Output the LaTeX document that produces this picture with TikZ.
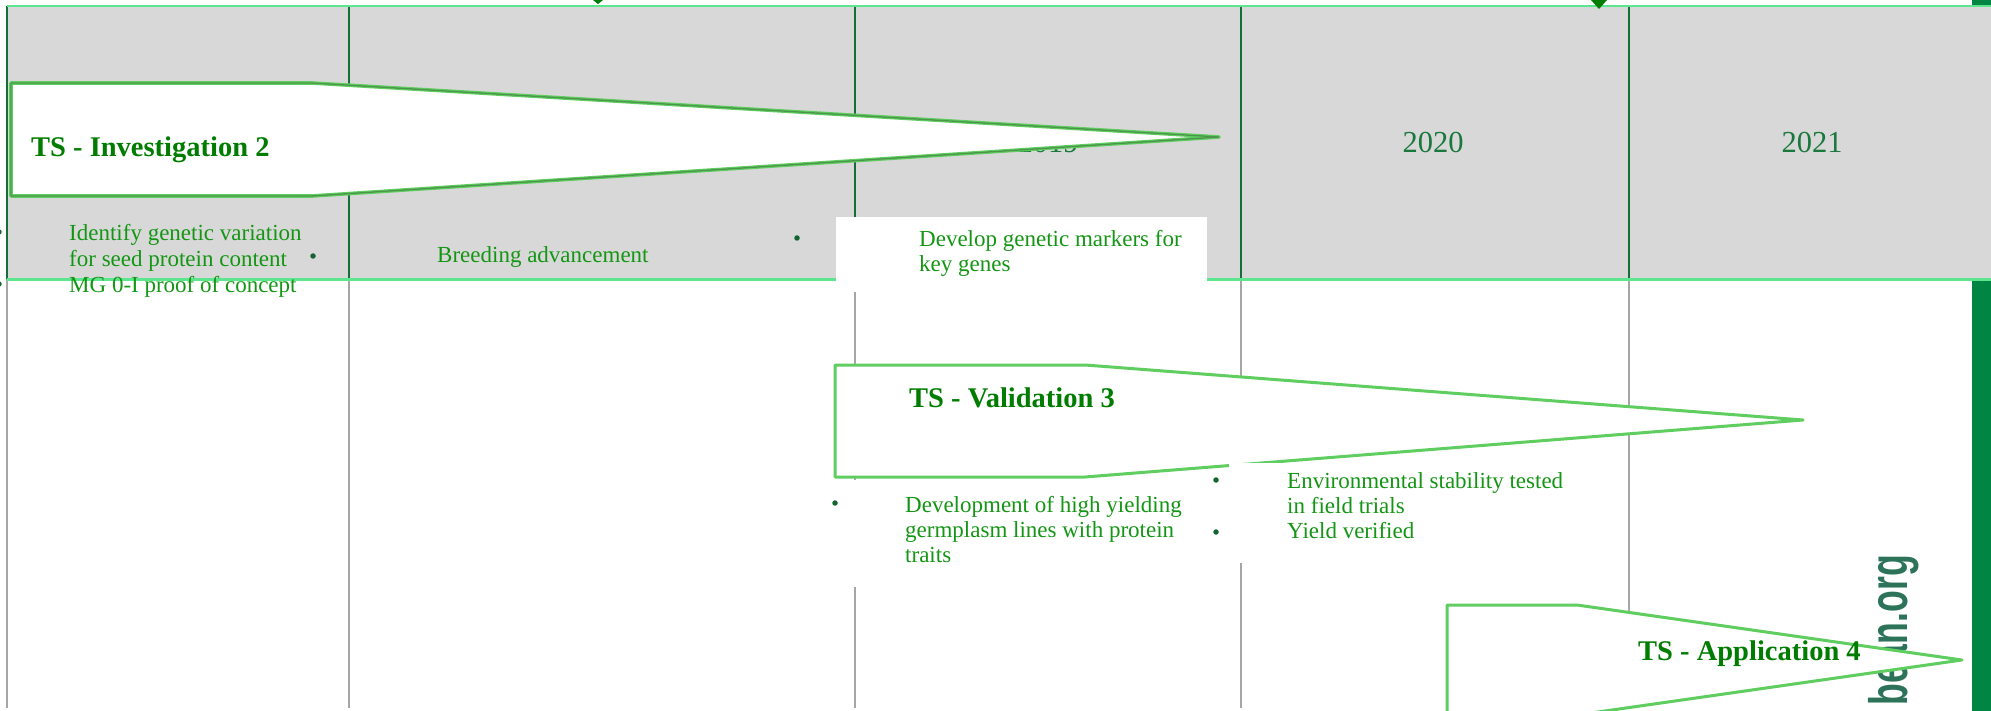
\documentclass[tikz,border=0pt]{standalone}
\usepackage{fontspec}
\setmainfont{Liberation Serif}
\newfontfamily\wmfont{Liberation Sans}

\definecolor{hdrgray}{RGB}{216,216,216}
\definecolor{hdrline}{RGB}{94,230,142}
\definecolor{vdark}{RGB}{22,110,55}
\definecolor{vgray}{RGB}{166,166,166}
\definecolor{txtgreen}{RGB}{20,150,20}
\definecolor{lblgreen}{RGB}{0,125,0}
\definecolor{yeargreen}{RGB}{25,120,60}
\definecolor{bulletgreen}{RGB}{20,100,50}
\definecolor{arrowline}{RGB}{95,205,95}
\definecolor{arrowcore}{RGB}{75,150,75}
\definecolor{band}{RGB}{0,133,66}
\definecolor{wmcolor}{RGB}{45,115,90}

\begin{document}
\begin{tikzpicture}[x=1pt,y=-1pt,
  body/.style={inner sep=0pt, anchor=base west, text=txtgreen,
    font=\fontsize{23}{26}\selectfont},
  tslabel/.style={inner sep=0pt, anchor=base west, text=lblgreen,
    font=\bfseries\fontsize{28.5}{32}\selectfont},
  year/.style={inner sep=0pt, anchor=base, text=yeargreen,
    font=\fontsize{30.5}{34}\selectfont},
  dot/.style={circle, fill=bulletgreen, inner sep=0pt, minimum size=5.5pt},
  tsarrow/.style={draw=arrowline, line width=3pt, fill=white, line join=round},
  shadedarrow/.style={tsarrow, line width=3.6pt,
    postaction={draw=arrowcore, line width=1.3pt, line join=round}},
  cover/.style={fill=white, draw=none},
  hdrrule/.style={draw=hdrline, line width=2.6pt},
  colrule/.style={draw=vdark, line width=2.6pt},
  gridrule/.style={draw=vgray, line width=2.4pt}]

\useasboundingbox (0,0) rectangle (1991,711);
\clip (0,0) rectangle (1991,711);

% right-hand band
\fill[band] (1972,0) rectangle (1991,711);

% header strip with the year columns
\fill[hdrgray] (7,6) rectangle (1991,279);
\foreach \x in {7,349,855,1241,1629} {
  \draw[colrule] (\x,6) -- (\x,279);
  \draw[gridrule] (\x,279) -- (\x,708);
}
\node[year] (y2019) at (1048,153) {2019};
\node[year] (y2020) at (1433,153) {2020};
\node[year] (y2021) at (1812,153) {2021};
\draw[hdrrule] (7,6) -- (1991,6);
\draw[hdrrule] (7,279.5) -- (1991,279.5);

% tips of shapes reaching in from above
\fill[lblgreen] (593,0) -- (603,0) -- (598,4) -- cycle;
\fill[lblgreen] (1591,0) -- (1607,0) -- (1599,9) -- cycle;

% vertical web address
\node[rotate=90, anchor=base east, inner sep=0pt, text=wmcolor,
      font=\wmfont\bfseries\fontsize{54}{60}\selectfont] (web) at (1907,555)
      {\scalebox{0.66}[1]{bean.org}};

% stage arrows
\draw[shadedarrow] (11,83) -- (312,83) -- (1219,137) -- (312,196) -- (11,196) -- cycle;
\draw[tsarrow] (835,365) -- (1085,365) -- (1803,420) -- (1085,477) -- (835,477) -- cycle;
\draw[tsarrow] (1447,605) -- (1577,605) -- (1962,660) -- (1577,715) -- (1447,715) -- cycle;

% white text panels
\fill[cover] (836,217) rectangle (1207,292);
\fill[cover] (836,480) rectangle (1207,587);
\fill[cover] (1229,463) rectangle (1600,563);

% stage titles
\node[tslabel] (ts2) at (31,157) {TS - Investigation 2};
\node[tslabel] (ts3) at (909,407) {TS - Validation 3};
\node[tslabel] (ts4) at (1638,660) {TS - Application 4};

% bullet points
\node[dot] (d1) at (-1,232) {};
\node[dot] (d2) at (-1,284) {};
\node[dot] (d3) at (313,256) {};
\node[dot] (d4) at (797,238) {};
\node[dot] (d5) at (835,503) {};
\node[dot] (d6) at (1216,480) {};
\node[dot] (d7) at (1216,532) {};

\node[body] (t1a) at (69,241) {Identify genetic variation};
\node[body] (t1b) at (69,266.5) {for seed protein content};
\node[body] (t1c) at (69,292) {MG 0-I proof of concept};
\node[body] (t2)  at (437,262) {Breeding advancement};
\node[body] (t3a) at (919,246.5) {Develop genetic markers for};
\node[body] (t3b) at (919,272) {key genes};
\node[body] (t4a) at (905,512) {Development of high yielding};
\node[body] (t4b) at (905,537) {germplasm lines with protein};
\node[body] (t4c) at (905,562) {traits};
\node[body] (t5a) at (1287,488) {Environmental stability tested};
\node[body] (t5b) at (1287,513) {in field trials};
\node[body] (t5c) at (1287,538) {Yield verified};
\end{tikzpicture}
\end{document}
